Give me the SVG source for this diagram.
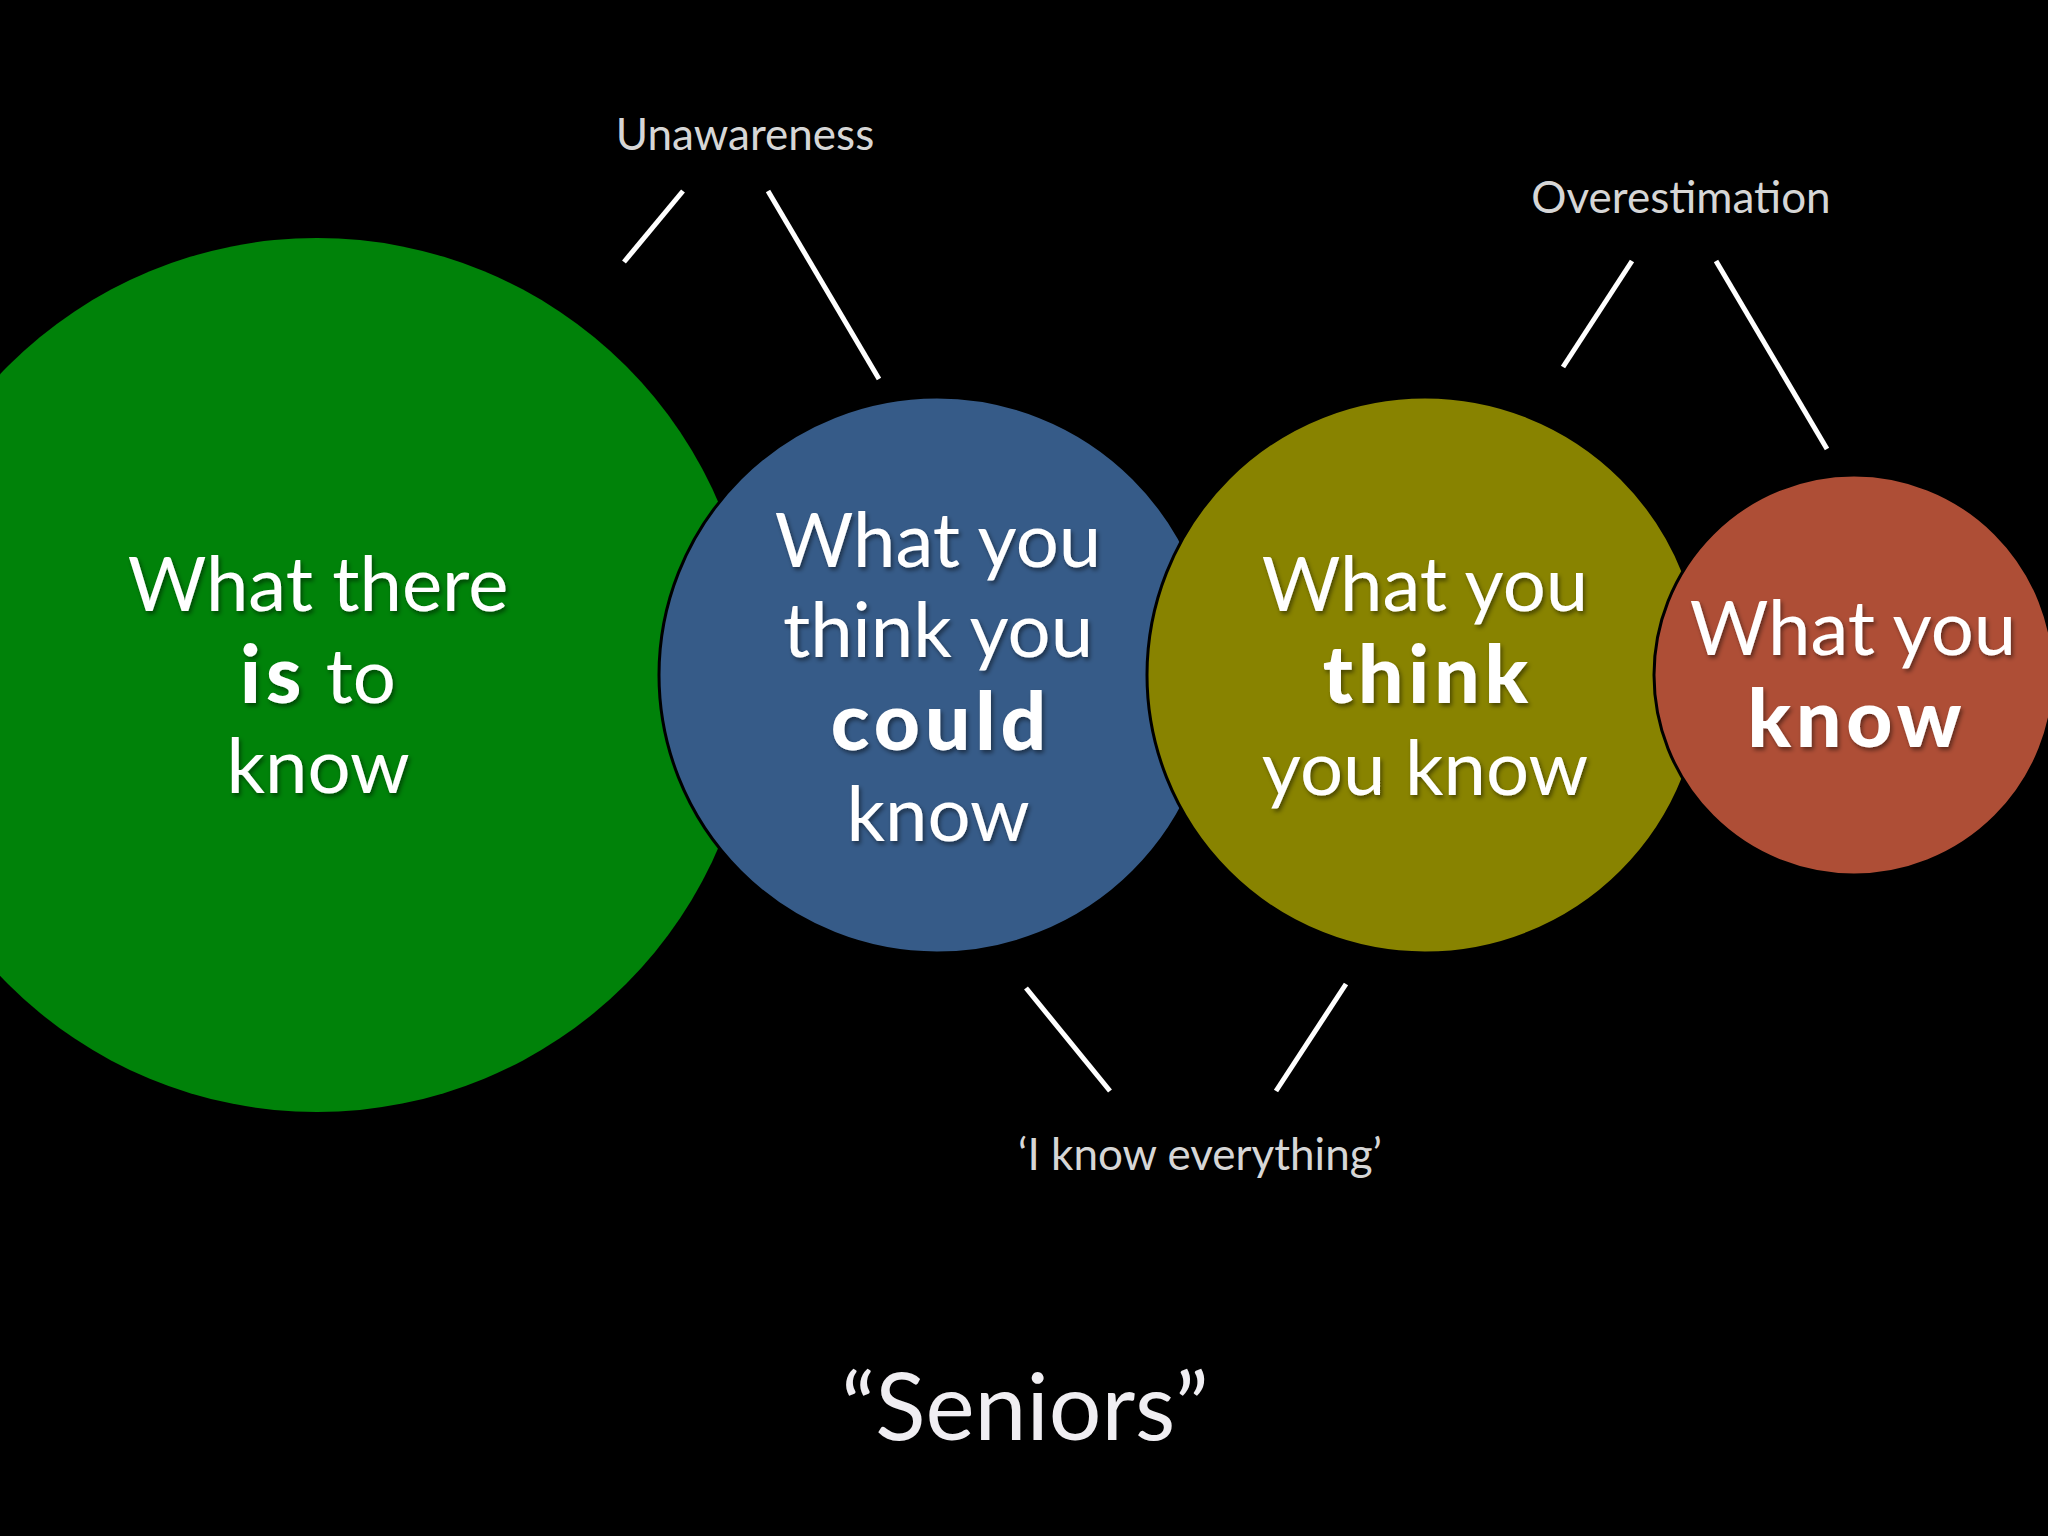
<svg xmlns="http://www.w3.org/2000/svg" width="2048" height="1536" viewBox="0 0 2048 1536">
  <defs>
    <filter id="shadow" x="-10%" y="-10%" width="120%" height="130%">
      <feDropShadow dx="2" dy="3" stdDeviation="2" flood-color="#000" flood-opacity="0.45"/>
    </filter>
  </defs>
  <style>
    .bubble { stroke: #000; stroke-width: 3; }
    .inner { font-family: Lato, "Liberation Sans", sans-serif; font-size: 76px; fill: #ffffff; text-anchor: middle; filter: url(#shadow); }
    .b { font-weight: 900; font-size: 80px; letter-spacing: 5px; }
    .note { font-family: Lato, "Liberation Sans", sans-serif; font-size: 44px; fill: #d6d6d6; text-anchor: middle; }
    .title { font-family: Lato, "Liberation Sans", sans-serif; font-size: 93px; fill: #f0eef2; text-anchor: middle; }
    .conn { stroke: #ffffff; stroke-width: 5; fill: none; }
  </style>
  <rect x="0" y="0" width="2048" height="1536" fill="#000"/>

  <g id="node-green">
    <circle cx="317" cy="675" r="437" fill="#008209"/>
    <text class="inner" x="318" y="611">What there</text>
    <text class="inner" x="318" y="703"><tspan class="b">is</tspan> to</text>
    <text class="inner" x="318" y="793">know</text>
  </g>

  <g id="node-blue">
    <circle class="bubble" cx="937" cy="675" r="278" fill="#365b88"/>
    <text class="inner" x="938" y="567">What you</text>
    <text class="inner" x="938" y="657">think you</text>
    <text class="inner b" x="941" y="750">could</text>
    <text class="inner" x="938" y="841">know</text>
  </g>

  <g id="node-olive">
    <circle class="bubble" cx="1425" cy="675" r="278" fill="#888300"/>
    <text class="inner" x="1425" y="611">What you</text>
    <text class="inner b" x="1428" y="703">think</text>
    <text class="inner" x="1425" y="795">you know</text>
  </g>

  <g id="node-red">
    <circle class="bubble" cx="1854" cy="675" r="200" fill="#ae4e36"/>
    <text class="inner" x="1853" y="655">What you</text>
    <text class="inner b" x="1857" y="747">know</text>
  </g>

  <g id="connectors">
    <line class="conn" x1="624" y1="262" x2="683" y2="191"/>
    <line class="conn" x1="768" y1="191" x2="879" y2="379"/>
    <line class="conn" x1="1632" y1="261" x2="1563" y2="367"/>
    <line class="conn" x1="1716" y1="261" x2="1827" y2="449"/>
    <line class="conn" x1="1026" y1="988" x2="1110" y2="1091"/>
    <line class="conn" x1="1346" y1="984" x2="1276" y2="1091"/>
  </g>

  <g id="labels">
    <text class="note" x="745" y="150">Unawareness</text>
    <text class="note" x="1681" y="213">Overestimation</text>
    <text class="note" x="1200" y="1170">‘I know everything’</text>
    <text class="title" x="1025" y="1440">“Seniors”</text>
  </g>
</svg>
